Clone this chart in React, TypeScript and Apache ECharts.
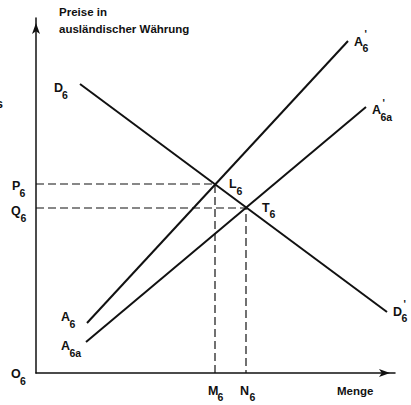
import React, { useEffect, useRef } from "react";
import * as echarts from "echarts";

// Diagram coordinates (arbitrary units, origin at O6)
const D6: number[][] = [[44, 289], [351, 61]];
const A6: number[][] = [[51, 50], [312, 332]];
const A6a: number[][] = [[50, 31], [330, 266]];
const L6: number[] = [179, 189];
const T6: number[] = [210, 165];
const X_MAX = 359;
const Y_MAX = 355;

// Annotation layout (pixel positions of the labels)
type Lbl = { main: string; sub: string; x: number; y: number; dx: number; prime?: boolean };
const labelLayout: Lbl[] = [
  { main: "D", sub: "6", x: 54, y: 88, dx: 8 },
  { main: "A", sub: "6", x: 354, y: 41.5, dx: 8.5, prime: true },
  { main: "A", sub: "6a", x: 372, y: 110, dx: 8.5, prime: true },
  { main: "L", sub: "6", x: 229, y: 184, dx: 7.5 },
  { main: "T", sub: "6", x: 262, y: 207.5, dx: 7.5 },
  { main: "P", sub: "6", x: 12, y: 186, dx: 7.5 },
  { main: "Q", sub: "6", x: 11, y: 211, dx: 9.5 },
  { main: "A", sub: "6", x: 61, y: 317, dx: 8.5 },
  { main: "A", sub: "6a", x: 61, y: 346, dx: 8.5 },
  { main: "O", sub: "6", x: 11, y: 374, dx: 9 },
  { main: "M", sub: "6", x: 208, y: 390.5, dx: 9.5 },
  { main: "N", sub: "6", x: 240, y: 390.5, dx: 9.5 },
  { main: "D", sub: "6", x: 393, y: 311.5, dx: 8.5, prime: true },
];

const FONT = "'Liberation Sans', Arial, sans-serif";
const INK = "#111";

function labelGraphics(l: Lbl): any[] {
  const out: any[] = [
    {
      type: "text",
      x: l.x,
      y: l.y,
      style: { text: l.main, font: `bold 12.5px ${FONT}`, fill: INK, textAlign: "left", textVerticalAlign: "middle" },
    },
    {
      type: "text",
      x: l.x + l.dx,
      y: l.y + 6.5,
      style: { text: l.sub, font: `bold 10.5px ${FONT}`, fill: INK, textAlign: "left", textVerticalAlign: "middle" },
    },
  ];
  if (l.prime) {
    out.push({
      type: "text",
      x: l.x + l.dx + 2,
      y: l.y - 7,
      style: { text: "'", font: `bold 10px ${FONT}`, fill: INK, textAlign: "left", textVerticalAlign: "middle" },
    });
  }
  return out;
}

export default function App() {
  const ref = useRef<HTMLDivElement>(null);
  useEffect(() => {
    if (!ref.current) return;
    const chart = echarts.init(ref.current, undefined, { renderer: "svg" });
    const solid = { color: INK, width: 2, type: "solid" as const };
    const dashed = { color: INK, width: 1.2, type: [8, 4] as any };
    const lineSeries = (name: string, data: number[][], ls: any) => ({
      name,
      type: "line",
      data,
      symbol: "none",
      lineStyle: ls,
      silent: true,
      z: 3,
    });
    const graphics: any[] = [];
    labelLayout.forEach((l) => graphics.push(...labelGraphics(l)));
    const txt = (text: string, x: number, y: number, align = "left", size = 11.5) => ({
      type: "text",
      x,
      y,
      style: { text, font: `bold ${size}px ${FONT}`, fill: INK, textAlign: align, textVerticalAlign: "middle" },
    });
    graphics.push(
      txt("Preise in", 59, 11.5),
      txt("ausländischer Währung", 59, 28.5),
      txt("Menge", 337, 391),
      txt("s", 3, 104, "right", 12.5)
    );
    const axisLine = {
      show: true,
      onZero: false,
      symbol: ["none", "arrow"],
      symbolSize: [6, 11],
      symbolOffset: [0, -5],
      lineStyle: { color: INK, width: 1.5 },
    };
    chart.setOption({
      animation: false,
      backgroundColor: "#fff",
      grid: { left: 36, top: 18, width: X_MAX, height: Y_MAX, containLabel: false },
      xAxis: {
        type: "value",
        min: 0,
        max: X_MAX,
        axisLine,
        axisTick: { show: false },
        axisLabel: { show: false },
        splitLine: { show: false },
      },
      yAxis: {
        type: "value",
        min: 0,
        max: Y_MAX,
        axisLine,
        axisTick: { show: false },
        axisLabel: { show: false },
        splitLine: { show: false },
      },
      series: [
        lineSeries("D6", D6, solid),
        lineSeries("A6", A6, solid),
        lineSeries("A6a", A6a, solid),
        lineSeries("L6 guide", [[0, L6[1]], L6, [L6[0], 0]], dashed),
        lineSeries("T6 guide", [[0, T6[1]], T6, [T6[0], 0]], dashed),
      ],
      graphic: graphics,
    });
    return () => chart.dispose();
  }, []);
  return <div ref={ref} style={{ position: "fixed", left: 0, top: 0, width: 411, height: 405, background: "#fff" }} />;
}
